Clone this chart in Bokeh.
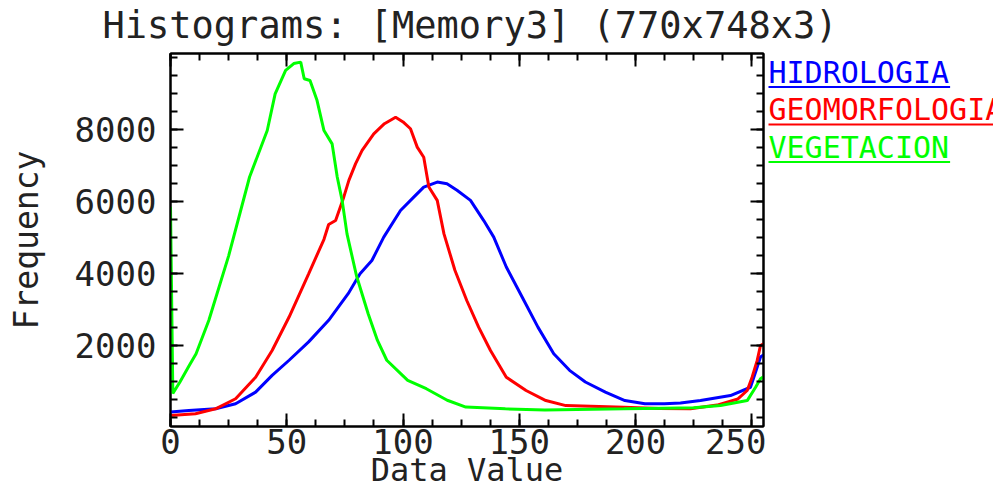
from bokeh.plotting import figure
from bokeh.layouts import column, row
from bokeh.models import Range1d, LinearAxis, FixedTicker
from bokeh.core.properties import value
from bokeh.embed import file_html
from bokeh.resources import INLINE

# Histogram counts per band (data value -> frequency)
hidro_x = [0, 7.9, 19.4, 28, 36.6, 43.7, 51, 59.4, 68, 76.4, 81.5, 86.6, 91.7, 98.9,
           104.6, 108.9, 114.7, 118.9, 123.2, 129, 134.7, 139, 144.4, 151.2, 158,
           164.8, 171.6, 178.4, 187, 195.4, 204, 212.4, 219.3, 227.9, 240.8, 249.4,
           251.6, 253.7, 255]
hidro_y = [150, 195, 242, 380, 705, 1170, 1590, 2100, 2700, 3440, 3990, 4360, 5010, 5750,
           6120, 6400, 6540, 6490, 6310, 6030, 5470, 5010, 4180, 3345, 2510,
           1770, 1310, 985, 705, 470, 380, 380, 400, 470, 610, 840,
           1260, 1680, 1740]

geomorf_x = [0, 10.75, 19.4, 28, 36.6, 43.7, 51, 59.4, 66, 68, 71, 74.5, 76.7, 79.6, 82.4,
             87.4, 92, 96.8, 100, 103.2, 106.1, 108.9, 111.1, 114.7, 117.6, 122.3,
             127.4, 132.5, 137.6, 144.4, 152.9, 161.4, 170, 195, 210, 223.6, 235, 244,
             248, 250.1, 252.3, 253.7, 255]
geomorf_y = [56, 103, 242, 520, 1120, 1860, 2790, 3990, 4950, 5360, 5470, 6120, 6585, 7050, 7420,
             7880, 8160, 8340, 8210, 8020, 7510, 7230, 6400, 6030, 5100, 4090,
             3250, 2510, 1860, 1120, 750, 470, 330, 285, 250, 240, 345, 515,
             750, 1120, 1585, 2000, 2050]

veget_x = [0, 1, 4, 8, 11, 16.5, 25, 34, 41.6, 45, 49.5, 53, 56, 57.5, 60, 63, 66, 69.5,
           71.7, 73.8, 75.9, 80, 85, 89, 93, 102, 110, 119, 127, 144, 161, 195, 212,
           225, 236.5, 248, 251.6, 253.7, 255]
veget_y = [5850, 670, 980, 1435, 1770, 2700, 4490, 6680, 7970, 8990, 9640, 9830, 9870, 9410,
           9360, 8810, 7970, 7600, 6680, 6030, 5100, 3930, 2880, 2140, 1590, 1030, 800,
           480, 290, 240, 210, 240, 260, 270, 335, 470, 840, 1075, 1130]

band_names = ["HIDROLOGIA", "GEOMORFOLOGIA", "VEGETACION"]
band_colors = ["#0000ff", "#ff0000", "#00ff00"]
band_x = [hidro_x, geomorf_x, veget_x]
band_y = [hidro_y, geomorf_y, veget_y]

title_text = "Histograms: [Memory3] (770x748x3)"
x_label = "Data Value"
y_label = "Frequency"

x_major = [0, 50, 100, 150, 200, 250]
x_minor = [12.5 * k for k in range(21)]
y_major = [2000, 4000, 6000, 8000]
y_minor = [500 * k for k in range(21)]

FONT = "DejaVu Sans Mono"
TEXT_COLOR = "#222222"

TITLE_H = 51
MAIN_W, MAIN_H = 766, 440
BORDER_TOP, BORDER_BOTTOM = 2, 65
LEGEND_W = 993 - MAIN_W
# text glyphs sit this fraction of the font size below the requested baseline
BASELINE_SHIFT = 0.35


def blank_figure(w, h, top=0, bottom=0):
    fh = h - top - bottom
    f = figure(width=w, height=h, x_range=Range1d(0, w), y_range=Range1d(fh, 0),
               x_axis_location=None, y_axis_location=None,
               output_backend="svg", toolbar_location=None,
               min_border_left=0, min_border_right=0,
               min_border_top=top, min_border_bottom=bottom)
    f.grid.visible = False
    f.outline_line_color = None
    f.background_fill_color = "white"
    f.border_fill_color = "white"
    return f


# ---- title strip ----
title_size = 37
title_fig = blank_figure(993, TITLE_H)
title_fig.text(x=[469.5], y=[38 - BASELINE_SHIFT * title_size], text=[title_text],
               text_font=value(FONT), text_font_size=f"{title_size}px",
               text_color=TEXT_COLOR, text_align="center", text_baseline="alphabetic")

# ---- main histogram plot ----
p = figure(width=MAIN_W, height=MAIN_H,
           x_range=Range1d(0, 255), y_range=Range1d(-250, 10110),
           x_axis_location=None, y_axis_location=None,
           output_backend="svg", toolbar_location=None,
           min_border_left=170, min_border_right=3,
           min_border_top=BORDER_TOP, min_border_bottom=BORDER_BOTTOM)
p.grid.visible = False
p.background_fill_color = "white"
p.border_fill_color = "white"
p.outline_line_color = "black"
p.outline_line_width = 2


def make_axis(major, minor, labelled):
    ax = LinearAxis(ticker=FixedTicker(ticks=major, minor_ticks=minor))
    ax.axis_line_color = "black"
    ax.axis_line_width = 2
    ax.major_tick_in = 13
    ax.major_tick_out = 0
    ax.minor_tick_in = 7
    ax.minor_tick_out = 0
    ax.major_tick_line_color = "black"
    ax.minor_tick_line_color = "black"
    ax.major_tick_line_width = 2
    ax.minor_tick_line_width = 2
    if labelled:
        ax.major_label_text_font = FONT
        ax.major_label_text_font_size = "34px"
        ax.major_label_text_color = TEXT_COLOR
        ax.axis_label_text_font = FONT
        ax.axis_label_text_font_style = "normal"
        ax.axis_label_text_color = TEXT_COLOR
    else:
        ax.major_label_text_font_size = "1px"
        ax.major_label_text_color = None
        ax.major_label_standoff = 0
    return ax


bottom = make_axis(x_major, x_minor, True)
bottom.major_label_standoff = 2
bottom.axis_label = x_label
bottom.axis_label_text_font_size = "32px"
bottom.axis_label_standoff = -6

left = make_axis(y_major, y_minor, True)
left.major_label_standoff = 14
left.axis_label = y_label
left.axis_label_text_font_size = "33px"
left.axis_label_standoff = 26

p.add_layout(bottom, "below")
p.add_layout(left, "left")
p.add_layout(make_axis(x_major, x_minor, False), "above")
p.add_layout(make_axis(y_major, y_minor, False), "right")

# histogram curves
for xs, ys, col in zip(band_x, band_y, band_colors):
    p.line(xs, ys, line_color=col, line_width=3)

# ---- underlined legend to the right (y measured down from the frame top) ----
leg_size = 30
leg = blank_figure(LEGEND_W, MAIN_H, BORDER_TOP, BORDER_BOTTOM)
char_w = 0.602 * leg_size
leg_x = [2, 2, 2]
leg_base = [29, 66.5, 104]
leg.text(x=leg_x, y=[b - BASELINE_SHIFT * leg_size for b in leg_base], text=band_names,
         text_font=value(FONT), text_font_size=f"{leg_size}px", text_color=band_colors,
         text_align="left", text_baseline="alphabetic")
leg.segment(x0=leg_x, y0=[b + 4.5 for b in leg_base],
            x1=[x + len(n) * char_w + 1 for x, n in zip(leg_x, band_names)],
            y1=[b + 4.5 for b in leg_base],
            line_color=band_colors, line_width=2)

layout = column(title_fig, row(p, leg, spacing=0), spacing=0)
open("out.html", "w").write(file_html(layout, INLINE))
